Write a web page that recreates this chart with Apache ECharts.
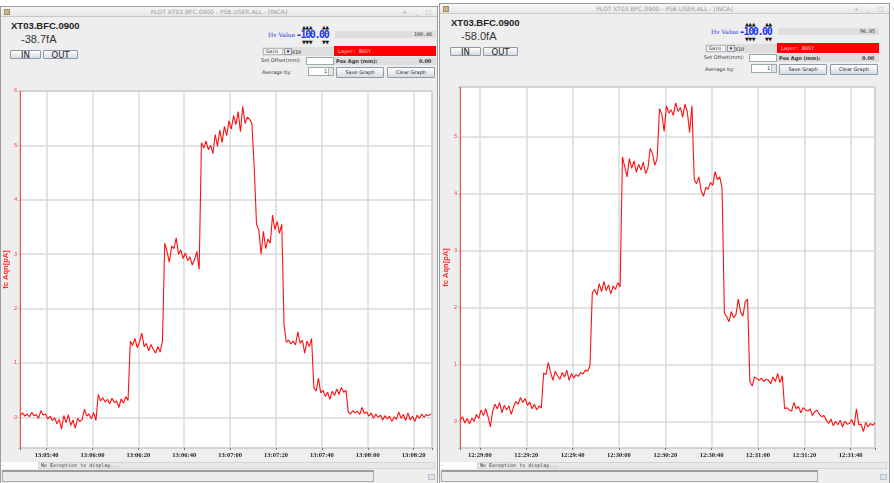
<!DOCTYPE html>
<html>
<head>
<meta charset="utf-8">
<script src="https://cdn.jsdelivr.net/npm/echarts@6/dist/echarts.min.js"></script>
<style>
body{margin:0;background:#fff;width:894px;height:483px;overflow:hidden;position:relative;font-family:"DejaVu Sans",sans-serif;}
.a{position:absolute;box-sizing:border-box;white-space:nowrap;}
.win{background:#eeeeee;border:1px solid #9c9c9c;}
.title{background:linear-gradient(#f7f7f7,#e6e6e6);border-bottom:1px solid #c8c8c8;color:#9a9a9a;font-size:6px;line-height:9px;text-align:center;}
.dev{font-family:"Liberation Sans";font-weight:bold;font-size:9.5px;color:#222;}
.cur{font-family:"Liberation Sans";font-size:11px;color:#333;}
.btn{background:linear-gradient(#fdfdfd,#d8dde3);border:1px solid #8e9aa8;border-radius:1px;text-align:center;color:#222;}
.lbl{font-size:5px;color:#333;}
.field{background:#dedede;}
.mono{font-family:"DejaVu Sans Mono";font-size:5px;color:#333;}
.arr{font-size:5px;color:#111;letter-spacing:-0.5px;line-height:5px;}
#chart{position:absolute;left:0;top:0;width:894px;height:483px;z-index:5;}
</style>
</head>
<body>
<div id="chrome"></div>
<div id="chart"></div>
<script>
// seconds of day of the first sample, one sample per second
var leftStart = 47128.5;   // 13:05:28.5
var rightStart = 44931.5;  // 12:28:51.5
var step = 1;

var leftCurrent = [
  0.04, 0.08, 0.02, 0.06, 0.01, 0.09, 0.03, 0.05, -0.02, 0.12,
  0.04, 0.06, -0.03, 0.02, -0.06, -0.01, -0.12, -0.04, -0.22, 0.03,
  -0.10, 0.05, -0.15, -0.05, -0.20, -0.02, -0.08, -0.04, 0.15, 0.02,
  0.06, -0.03, 0.09, -0.06, 0.42, 0.30, 0.36, 0.28, 0.33, 0.25,
  0.35, 0.27, 0.30, 0.18, 0.34, 0.26, 0.38, 0.31, 1.40, 1.32,
  1.45, 1.28, 1.38, 1.55, 1.30, 1.36, 1.22, 1.34, 1.25, 1.18,
  1.30, 1.20, 1.40, 3.20, 3.05, 2.85, 3.15, 3.10, 3.30, 3.00,
  3.08, 2.92, 3.02, 2.88, 2.95, 2.80, 2.90, 3.05, 2.72, 5.05,
  4.95, 5.08, 4.92, 5.00, 4.85, 5.20, 4.98, 5.28, 5.05, 5.35,
  5.18, 5.45, 5.30, 5.55, 5.38, 5.62, 5.25, 5.72, 5.40, 5.52,
  5.48, 5.40, 4.60, 3.55, 3.45, 3.00, 3.42, 3.10, 3.28, 3.20,
  3.72, 3.45, 3.60, 3.38, 3.55, 1.70, 1.38, 1.42, 1.35, 1.40,
  1.33, 1.57, 1.36, 1.42, 1.18, 1.40, 1.30, 1.45, 0.55, 0.48,
  0.72, 0.45, 0.50, 0.38, 0.46, 0.33, 0.48, 0.40, 0.52, 0.42,
  0.55, 0.46, 0.50, 0.10, 0.06, 0.12, 0.08, 0.11, 0.05, 0.18,
  0.07, 0.10, 0.02, 0.08, -0.02, 0.06, 0.00, 0.04, -0.05, 0.03,
  -0.03, 0.02, -0.08, 0.01, -0.04, 0.10, -0.02, 0.05, -0.06, 0.08,
  -0.05, 0.02, -0.08, 0.04, -0.02, 0.06, 0.00, 0.05, 0.03, 0.06
];

var rightCurrent = [
  0.02, 0.08, -0.03, 0.05, -0.05, 0.06, 0.00, 0.12, 0.05, 0.20,
  0.10, 0.22, 0.08, -0.10, 0.18, 0.30, 0.22, 0.33, 0.15, 0.28,
  0.20, 0.27, 0.12, 0.25, 0.35, 0.30, 0.42, 0.33, 0.40, 0.28,
  0.34, 0.22, 0.30, 0.20, 0.27, 0.23, 0.85, 0.82, 1.03, 0.86,
  0.72, 0.88, 0.80, 0.74, 0.86, 0.78, 0.90, 0.72, 0.84, 0.76,
  0.82, 0.79, 0.86, 0.83, 0.90, 0.88, 0.98, 2.26, 2.32, 2.22,
  2.42, 2.28, 2.46, 2.30, 2.40, 2.24, 2.38, 2.32, 2.44, 2.36,
  4.65, 4.48, 4.30, 4.62, 4.45, 4.58, 4.38, 4.52, 4.42, 4.56,
  4.36, 4.45, 4.80, 4.70, 4.50, 4.63, 5.50, 5.40, 5.10, 5.55,
  5.42, 5.48, 5.38, 5.60, 5.45, 5.52, 5.35, 5.58, 5.44, 5.08,
  5.55, 4.25, 4.18, 4.30, 4.05, 3.96, 4.12, 4.08, 4.20, 4.15,
  4.39, 4.25, 4.30, 4.10, 1.90, 1.84, 1.75, 1.93, 1.82, 1.88,
  2.15, 1.92, 1.85, 2.10, 2.15, 0.70, 0.62, 0.78, 0.75, 0.72,
  0.76, 0.70, 0.74, 0.72, 0.66, 0.78, 0.70, 0.84, 0.68, 0.80,
  0.22, 0.24, 0.20, 0.18, 0.33, 0.22, 0.26, 0.15, 0.24, 0.20,
  0.18, 0.22, 0.10, 0.17, 0.20, 0.12, 0.08, 0.10, 0.02, -0.04,
  0.04, -0.08, 0.00, -0.06, 0.02, -0.10, 0.00, -0.05, -0.04, 0.03,
  -0.08, 0.22, -0.06, -0.05, -0.18, -0.02, -0.10, -0.04, -0.07, -0.03
];

var leftXRange = [47128.4, 47308];
var rightXRange = [44931.4, 45110.5];
var leftYRange = [-0.565, 6];
var rightYRange = [-0.47, 5.88];

var windows = [
  {x: 0, w: 438, ox: 0, gx: 0, oy: 0, cur: '-38.7fA', hv: '100.46', barW: 372},
  {x: 439, w: 451, ox: 440, gx: 443, oy: -3, cur: '-58.0fA', hv: '96.05', barW: 377}
];

function windowHtml(w) {
  var o = w.ox, g = w.gx, t = w.oy;
  var s = '';
  s += '<div class="a win" style="left:' + w.x + 'px;top:' + (6 + t) + 'px;width:' + w.w + 'px;height:' + (480 - t) + 'px"></div>';
  s += '<div class="a title" style="left:' + (w.x + 1) + 'px;top:' + (7 + t) + 'px;width:' + (w.w - 2) + 'px;height:10px">PLOT XT03.BFC.0900 - PSB.USER.ALL - [INCA]</div>';
  s += '<div class="a" style="left:' + (w.x + 4) + 'px;top:' + (9 + t) + 'px;width:6px;height:6px;background:#c9b48a;border:1px solid #a08a60"></div>';
  s += '<div class="a" style="left:' + (w.x + w.w - 36) + 'px;top:' + (7 + t) + 'px;font-size:6px;color:#aaa;line-height:9px;letter-spacing:3px">+ _ □ ×</div>';
  s += '<div class="a dev" style="left:' + (o + 11) + 'px;top:' + (20 + t) + 'px">XT03.BFC.0900</div>';
  s += '<div class="a cur" style="left:' + (o + 21) + 'px;top:' + (33 + t) + 'px">' + w.cur + '</div>';
  s += '<div class="a btn" style="left:' + (o + 10) + 'px;top:' + (50 + t) + 'px;width:31px;height:9px;font-size:8.5px;line-height:8px">IN</div>';
  s += '<div class="a btn" style="left:' + (o + 43) + 'px;top:' + (50 + t) + 'px;width:35px;height:9px;font-size:8.5px;line-height:8px">OUT</div>';
  // Hv value block
  s += '<div class="a" style="left:' + (g + 268) + 'px;top:' + (32 + t) + 'px;font-size:6px;line-height:6px;color:#2233dd;font-family:\'DejaVu Serif\'">Hv Value</div>';
  s += '<div class="a arr" style="left:' + (g + 302) + 'px;top:' + (25 + t) + 'px">▲▲▲</div>';
  s += '<div class="a arr" style="left:' + (g + 322) + 'px;top:' + (25 + t) + 'px">▲▲</div>';
  s += '<div class="a" style="left:' + (g + 296) + 'px;top:' + (30 + t) + 'px;font-size:10px;line-height:9px;font-weight:bold;color:#2233ee;font-family:\'DejaVu Sans Mono\';letter-spacing:-1.4px">-100.00</div>';
  s += '<div class="a arr" style="left:' + (g + 302) + 'px;top:' + (40 + t) + 'px">▼▼▼</div>';
  s += '<div class="a arr" style="left:' + (g + 322) + 'px;top:' + (40 + t) + 'px">▼▼</div>';
  s += '<div class="a field mono" style="left:' + (g + 335) + 'px;top:' + (31 + t) + 'px;width:101px;height:7px;text-align:right;padding-right:4px;line-height:7px">' + w.hv + '</div>';
  // gain row
  s += '<div class="a field" style="left:' + (g + 262) + 'px;top:' + (47 + t) + 'px;width:72px;height:9px"></div>';
  s += '<div class="a mono" style="left:' + (g + 263) + 'px;top:' + (48 + t) + 'px;width:20px;height:7px;background:#f4f4f4;border:1px solid #bbb;line-height:5px;padding-left:2px">Gain</div>';
  s += '<div class="a" style="left:' + (g + 284) + 'px;top:' + (48 + t) + 'px;width:8px;height:7px;background:#e4e8ee;border:1px solid #99a;font-size:5px;line-height:5px;text-align:center">▾</div>';
  s += '<div class="a mono" style="left:' + (g + 292) + 'px;top:' + (49 + t) + 'px">X10</div>';
  s += '<div class="a mono" style="left:' + (g + 334) + 'px;top:' + (46 + t) + 'px;width:102px;height:10px;background:#ff0000;color:#ffd0d0;padding-left:4px;line-height:10px">Layer: BUSY</div>';
  // offset row
  s += '<div class="a lbl" style="left:' + (g + 261) + 'px;top:' + (57 + t) + 'px">Set Offset(mm):</div>';
  s += '<div class="a" style="left:' + (g + 306) + 'px;top:' + (57 + t) + 'px;width:28px;height:8px;background:#fff;border:1px solid #9aa"></div>';
  s += '<div class="a field" style="left:' + (g + 334) + 'px;top:' + (57 + t) + 'px;width:102px;height:8px"></div>';
  s += '<div class="a lbl" style="left:' + (g + 336) + 'px;top:' + (58 + t) + 'px;font-weight:bold">Pos Agn (mm):</div>';
  s += '<div class="a lbl" style="left:' + (g + 419) + 'px;top:' + (58 + t) + 'px;font-weight:bold">0.00</div>';
  // average row
  s += '<div class="a lbl" style="left:' + (g + 262) + 'px;top:' + (69 + t) + 'px">Average by:</div>';
  s += '<div class="a mono" style="left:' + (g + 308) + 'px;top:' + (67 + t) + 'px;width:26px;height:9px;background:#fff;border:1px solid #9aa;text-align:right;padding-right:6px;line-height:7px">1</div>';
  s += '<div class="a" style="left:' + (g + 328) + 'px;top:' + (68 + t) + 'px;width:5px;height:7px;background:#e6e6e6;border-left:1px solid #bbb"></div>';
  s += '<div class="a btn" style="left:' + (g + 336) + 'px;top:' + (67 + t) + 'px;width:48px;height:11px;font-size:5px;line-height:9px">Save Graph</div>';
  s += '<div class="a btn" style="left:' + (g + 387) + 'px;top:' + (67 + t) + 'px;width:48px;height:11px;font-size:5px;line-height:9px">Clear Graph</div>';
  // status and bottom bar
  s += '<div class="a" style="left:' + (w.x + 1) + 'px;top:462px;width:37px;height:7px;background:#fff"></div>';
  s += '<div class="a" style="left:' + (w.x + 2) + 'px;top:463px;font-size:5px;color:#e33;line-height:5px">-</div>';
  s += '<div class="a mono" style="left:' + (w.x + 38) + 'px;top:462px;width:' + (w.w - 41) + 'px;height:7px;background:#e9e9e9;border:1px solid #d4d4d4;padding-left:2px;line-height:5px">No Exception to display...</div>';
  s += '<div class="a" style="left:' + (w.x + 2) + 'px;top:470px;width:' + w.barW + 'px;height:12px;background:#ebebeb;border:1px solid #a9a9a9;border-top:2px solid #9c9c9c"></div>';
  s += '<div class="a" style="left:' + (w.x + w.w - 10) + 'px;top:474px;width:7px;height:6px;background:#dde3ea;border:1px solid #b8c2cc"></div>';
  return s;
}

document.getElementById('chrome').innerHTML = windowHtml(windows[0]) + windowHtml(windows[1]);

function pad(n) { return (n < 10 ? '0' : '') + n; }
function clockLabel(v) {
  var r = Math.round(v);
  if (Math.abs(v - r) > 0.01 || r % 20 !== 0) return '';
  return pad(Math.floor(r / 3600)) + ':' + pad(Math.floor(r / 60) % 60) + ':' + pad(r % 60);
}
function intLabel(v) {
  var r = Math.round(v);
  return Math.abs(v - r) < 1e-6 ? String(r) : '';
}

function toPoints(start, values) {
  return values.map(function (v, i) { return [start + i * step, v]; });
}

var gridLine = {show: true, lineStyle: {color: '#dadada', width: 1.5}};

function xAxisFor(idx, range) {
  return {
    type: 'value', gridIndex: idx, min: range[0], max: range[1],
    minInterval: 20, maxInterval: 20, splitNumber: 9,
    axisLine: {show: false, onZero: false},
    axisTick: {show: true, length: 2, lineStyle: {color: '#777'}},
    axisLabel: {formatter: clockLabel, fontSize: 6.5, fontWeight: 'bold', fontFamily: 'Liberation Serif', color: '#222', margin: 4},
    splitLine: gridLine
  };
}

function yAxisFor(idx, range) {
  return {
    type: 'value', gridIndex: idx, min: range[0], max: range[1],
    minInterval: 1, maxInterval: 1, splitNumber: 7,
    name: 'fc Aqn[pA]', nameLocation: 'middle', nameGap: 9,
    nameTextStyle: {color: '#ff2828', fontSize: 7.5, fontWeight: 'bold', fontFamily: 'Liberation Sans'},
    axisLine: {show: true, onZero: false, lineStyle: {color: '#ff5050', width: 1}},
    axisTick: {show: true, length: 2, lineStyle: {color: '#bbb'}},
    axisLabel: {formatter: intLabel, fontSize: 5, color: '#ff3030', margin: 3},
    splitLine: gridLine
  };
}

var myChart = echarts.init(document.getElementById('chart'));
var option = {
  backgroundColor: 'transparent',
  animation: false,
  grid: [
    {left: 20, top: 91, width: 412, height: 357, show: true, backgroundColor: '#fff', borderColor: '#8a8a8a', borderWidth: 1},
    {left: 460, top: 87, width: 415, height: 361, show: true, backgroundColor: '#fff', borderColor: '#8a8a8a', borderWidth: 1}
  ],
  xAxis: [xAxisFor(0, leftXRange), xAxisFor(1, rightXRange)],
  yAxis: [yAxisFor(0, leftYRange), yAxisFor(1, rightYRange)],
  series: [
    {
      type: 'line', xAxisIndex: 0, yAxisIndex: 0, showSymbol: false,
      lineStyle: {color: '#ff1010', width: 1.1},
      data: toPoints(leftStart, leftCurrent)
    },
    {
      type: 'line', xAxisIndex: 1, yAxisIndex: 1, showSymbol: false,
      lineStyle: {color: '#ff1010', width: 1.1},
      data: toPoints(rightStart, rightCurrent)
    }
  ]
};

option && myChart.setOption(option);
</script>
</body>
</html>
